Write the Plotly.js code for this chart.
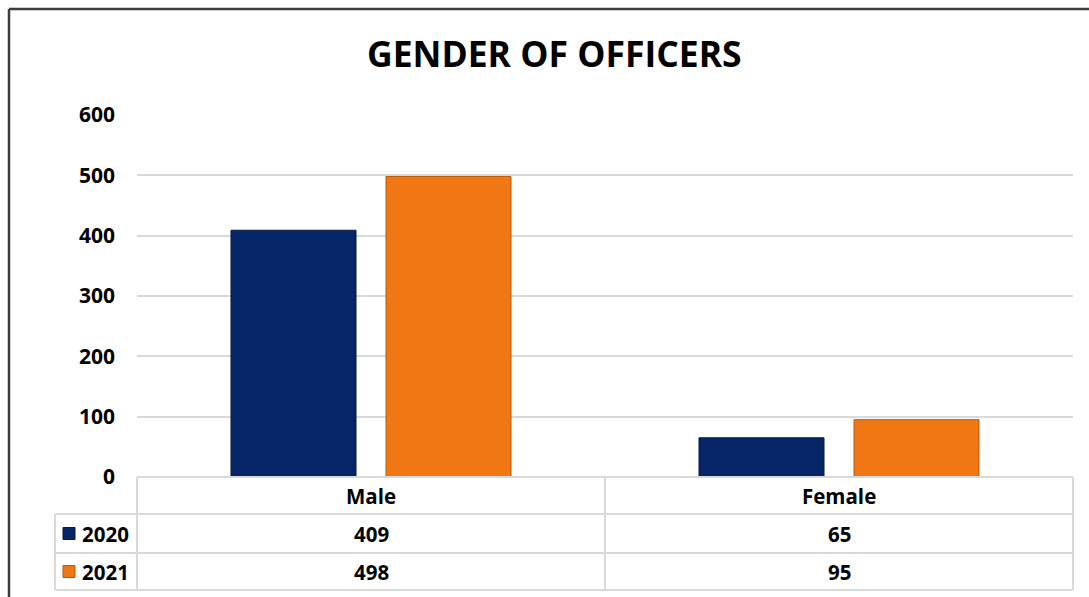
<!DOCTYPE html>
<html>
<head>
<meta charset="utf-8">
<script src="https://cdn.plot.ly/plotly-3.0.1.min.js"></script>
<style>html,body{margin:0;padding:0;background:#fff;}#chart{width:1089px;height:597px;}</style>
</head>
<body>
<div id="chart"></div>
<script>
const categories = ["Male", "Female"];
const seriesNames = ["2020", "2021"];
const values2020 = [409, 65];
const values2021 = [498, 95];
const yTicks = [0, 100, 200, 300, 400, 500, 600];
const chartTitle = "GENDER OF OFFICERS";

const colors = ["#062567", "#F07714"];
const lineColors = ["#031a4a", "#b85a0c"];

const W = 1089, H = 597;
const M = {l: 137, r: 16, t: 115, b: 120};
const PW = W - M.l - M.r, PH = H - M.t - M.b;
const px = x => (x - M.l) / PW;
const py = y => (H - M.b - y) / PH;
const FONT = "Open Sans, Arial, sans-serif";
const GRID = "#d9d9d9";

const allSeries = [values2020, values2021];
const traces = allSeries.map((v, i) => ({
  type: "bar", x: categories, y: v, name: seriesNames[i],
  marker: {color: colors[i], line: {color: lineColors[i], width: 1}},
  hoverinfo: "x+y+name"
}));

// table geometry (pixels)
const rowTops = [477, 514, 553, 590];
const leftColX = 55;
const shapes = [];
// outer frame (top and left edges visible)
shapes.push({type: "line", xref: "paper", yref: "paper", x0: px(9), x1: px(W + 10), y0: py(9), y1: py(9),
  line: {color: "#3c3c3c", width: 2.5}});
shapes.push({type: "line", xref: "paper", yref: "paper", x0: px(9), x1: px(9), y0: py(9), y1: py(H + 10),
  line: {color: "#3c3c3c", width: 2.5}});
// horizontal table lines
shapes.push({type: "line", xref: "paper", yref: "paper", x0: 0, x1: 1, y0: py(rowTops[0]), y1: py(rowTops[0]), line: {color: GRID, width: 2}});
for (let r = 1; r < rowTops.length; r++) {
  shapes.push({type: "line", xref: "paper", yref: "paper", x0: px(leftColX), x1: 1, y0: py(rowTops[r]), y1: py(rowTops[r]), line: {color: GRID, width: 2}});
}
// vertical lines
shapes.push({type: "line", xref: "paper", yref: "paper", x0: 0, x1: 0, y0: py(rowTops[0]), y1: py(rowTops[3]), line: {color: GRID, width: 2}});
shapes.push({type: "line", xref: "paper", yref: "paper", x0: 1, x1: 1, y0: py(rowTops[0]), y1: py(rowTops[3]), line: {color: GRID, width: 2}});
shapes.push({type: "line", xref: "paper", yref: "paper", x0: px(leftColX), x1: px(leftColX), y0: py(rowTops[1]), y1: py(rowTops[3]), line: {color: GRID, width: 2}});
for (let c = 1; c < categories.length; c++) {
  shapes.push({type: "line", xref: "x", yref: "paper", x0: c - 0.5, x1: c - 0.5, y0: py(rowTops[0]), y1: py(rowTops[3]), line: {color: GRID, width: 2}});
}

const annotations = [];
const tf = {family: FONT, size: 20.5, color: "#000"};
categories.forEach((c, ci) => {
  annotations.push({xref: "x", yref: "paper", x: c, y: py((rowTops[0] + rowTops[1]) / 2), text: "<b>" + c + "</b>",
    showarrow: false, font: tf, xanchor: "center", yanchor: "middle"});
  allSeries.forEach((v, si) => {
    annotations.push({xref: "x", yref: "paper", x: c, y: py((rowTops[si + 1] + rowTops[si + 2]) / 2), text: "<b>" + v[ci] + "</b>",
      showarrow: false, font: tf, xanchor: "center", yanchor: "middle"});
  });
});
seriesNames.forEach((n, si) => {
  const cy = (rowTops[si + 1] + rowTops[si + 2]) / 2;
  shapes.push({type: "rect", xref: "paper", yref: "paper", x0: px(63), x1: px(75), y0: py(cy - 6), y1: py(cy + 6),
    fillcolor: colors[si], line: {color: lineColors[si], width: 1}});
  annotations.push({xref: "paper", yref: "paper", x: px(80), y: py(cy), text: "<b>" + n + "</b>",
    showarrow: false, font: tf, xanchor: "left", yanchor: "middle"});
});

const layout = {
  width: W, height: H,
  margin: M,
  paper_bgcolor: "#fff", plot_bgcolor: "#fff",
  title: {text: "<b>" + chartTitle + "</b>", font: {family: FONT, size: 35.5, color: "#000"},
    x: 0.509, xanchor: "center", y: 1 - 55 / H, yanchor: "middle"},
  barmode: "group", bargap: 0.3376, bargroupgap: 0.1935,
  showlegend: false,
  xaxis: {showticklabels: false, showgrid: false, zeroline: false, showline: false, ticks: ""},
  yaxis: {range: [0, 600], tickvals: yTicks, ticktext: yTicks.map(t => "<b>" + t + "</b>"),
    showgrid: true, gridcolor: GRID, gridwidth: 2, zeroline: false, showline: false,
    tickfont: {family: FONT, size: 21, color: "#000"}, ticks: "", ticklabelstandoff: 21},
  shapes: shapes, annotations: annotations
};

Plotly.newPlot("chart", traces, layout, {displayModeBar: false, staticPlot: true});
</script>
</body>
</html>
